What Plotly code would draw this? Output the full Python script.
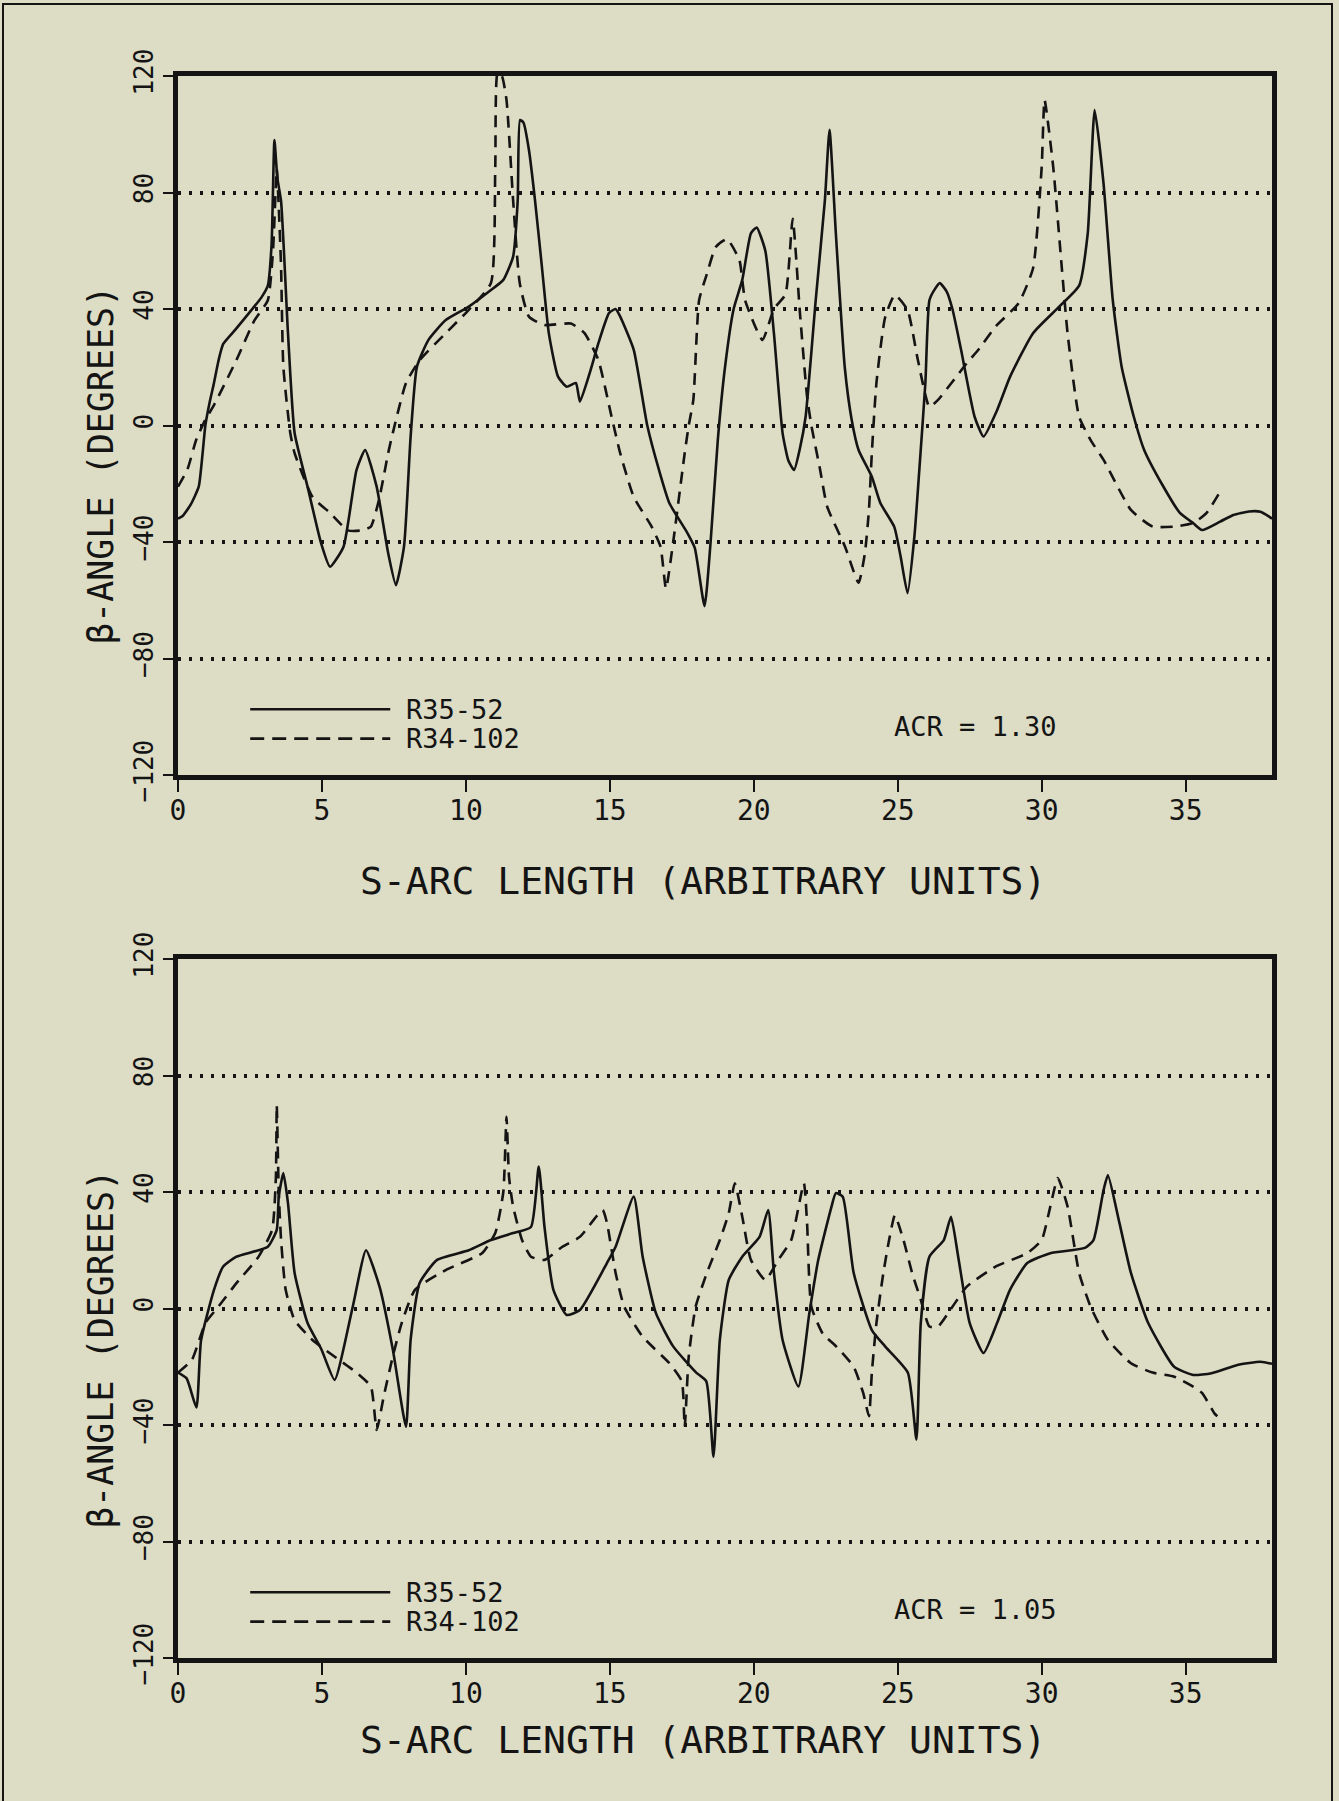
import plotly.graph_objects as go

# ---------------- data ----------------
# Top panel (ACR = 1.30)
top_r35_x = [0, 0.17, 0.45, 0.72, 0.85, 0.95, 1.1, 1.25, 1.4, 1.57, 2.0, 2.5, 2.9, 3.12, 3.25, 3.35, 3.45,
             3.58, 3.82, 4.05, 4.5, 4.97, 5.28, 5.75, 6.2, 6.5, 6.9, 7.3, 7.57, 7.85, 8.08, 8.3, 8.7, 9.3,
             10.1, 10.87, 11.3, 11.64, 11.8, 11.88, 12.0, 12.19, 12.4, 12.64, 12.88, 13.2, 13.5, 13.82,
             13.96, 14.3, 14.6, 14.97, 15.2, 15.36, 15.83, 16.3, 16.7, 17.07, 17.7, 17.95, 18.29, 18.5,
             18.75, 19.0, 19.3, 19.6, 19.9, 20.1, 20.4, 20.7, 21.0, 21.2, 21.4, 21.6, 21.8, 22.15, 22.47,
             22.63, 22.85, 23.16, 23.4, 23.64, 24.1, 24.4, 24.88, 25.1, 25.34, 25.58, 25.73, 25.96, 26.1,
             26.3, 26.46, 26.7, 26.9, 27.2, 27.67, 27.98, 28.44, 28.9, 29.7, 30.6, 31.3, 31.6, 31.84,
             32.15, 32.47, 32.78, 33.2, 33.56, 34.17, 34.8, 35.26, 35.57, 36.2, 36.66, 37.2, 37.6, 37.9, 38]
top_r35_y = [-32, -31, -27, -21, -10, 0, 8, 14.6, 22, 28, 33, 39, 44, 48, 62, 98, 85,
             77, 31.7, -2.6, -21, -40.4, -48.5, -41.6, -15.3, -8.4, -21, -43.8, -54.8, -41.6, -3.8, 20.2,
             29.4, 36.2, 40.8, 46.5, 50, 58, 77.4, 104.9, 104, 94.6, 77.4, 54.5, 31.7, 16.8, 13.3, 14.6,
             8.2, 18, 28.2, 38.6, 40, 37.4, 26, 0, -15, -26.7, -37, -42, -62, -40,
             -5, 20, 40, 50, 66, 68, 60, 31.6, -2.6, -12, -15.3, -8, 3, 43, 77.4,
             101.5, 66, 20, 2, -8.4, -17.6, -26.7, -34.8, -45, -57.6, -38, -18, 14.6, 43,
             47, 48.9, 46, 40, 26, 3, -3.8, 5, 16.7, 31.7, 40.7, 48, 66, 108.3,
             83, 43, 20, 3, -8.4, -20, -30, -33.5, -35.9, -33, -30.7, -29.5, -29.6, -31.3, -32]

top_r34_x = [0, 0.33, 0.63, 0.95, 1.25, 2.03, 2.65, 3.12, 3.3, 3.43, 3.5, 3.58, 3.66, 3.9, 4.05, 4.67,
             5.28, 5.9, 6.4, 6.7, 6.98, 7.3, 7.46, 7.92, 8.4, 9.3, 10.1, 10.87, 11.02, 11.1, 11.25, 11.41,
             11.64, 11.87, 12.19, 12.73, 13.65, 14.12, 14.6, 15.06, 15.36, 15.83, 16.45, 16.76, 16.95,
             17.2, 17.6, 17.74, 17.9, 18.1, 18.37, 18.68, 19.07, 19.5, 19.7, 20.3, 20.7, 21.1, 21.35,
             21.6, 21.85, 22.0, 22.3, 22.55, 23.17, 23.64, 23.86, 24.0, 24.1, 24.26, 24.56, 24.9, 25.34,
             25.7, 26.1, 26.4, 27.4, 27.8, 28.4, 29.2, 29.7, 30.0, 30.1, 30.4, 30.7, 30.9, 31.3, 31.7,
             32.15, 33.1, 33.85, 34.6, 35.26, 35.73, 36.2]
top_r34_y = [-21, -15, -5, 2, 7, 22.5, 36, 43, 60, 88, 75, 54.5, 20, -2.6, -9.5, -24.5,
             -30, -36, -36, -34.7, -25.6, -9.5, -2.6, 14.6, 22.5, 31.7, 39.7, 48.9, 88.8, 121, 120, 111.8,
             77.4, 48.9, 37.4, 34.5, 35, 31.7, 22.5, 3, -9.5, -24.5, -34.7, -41.6, -56,
             -40, -9.5, 0, 8.8, 43, 52, 61.3, 64, 56.8, 43, 29.4, 40, 45, 71,
             39, 10, 0, -15, -27.9, -41.6, -54, -43.8, -29, -9.5, 14.6, 37, 44.8, 39.7,
             22.5, 6.4, 8.8, 21.4, 26, 34, 42, 54, 88.7, 111.8, 88.8, 54, 31.6, 3, -5,
             -11.8, -29, -34.7, -34.7, -33.5, -30, -22.7]

# Bottom panel (ACR = 1.05)
bot_r35_x = [0, 0.3, 0.64, 0.8, 1.25, 1.57, 2.03, 3.12, 3.43, 3.5, 3.66, 3.82, 4.05, 4.5, 4.98, 5.44,
             6.07, 6.53, 7.0, 7.46, 7.92, 8.08, 8.39, 9.0, 10.1, 10.87, 11.64, 12.26, 12.53, 12.73, 13.04,
             13.5, 13.96, 14.9, 15.2, 15.83, 16.14, 16.6, 17.2, 18.0, 18.35, 18.6, 18.82, 19.13, 19.6,
             20.2, 20.5, 20.7, 21.0, 21.55, 21.93, 22.24, 22.7, 22.85, 23.09, 23.47, 24.1, 24.56, 25.35,
             25.65, 25.8, 26.1, 26.6, 26.85, 27.1, 27.5, 27.98, 28.45, 28.9, 29.5, 30.3, 31.5, 31.8,
             32.15, 32.3, 32.7, 33.1, 33.7, 34.6, 35.26, 35.9, 36.8, 37.6, 38]
bot_r35_y = [-22, -24, -34, -11, 6.4, 14.4, 17.8, 21.2, 27, 38.4, 46.5, 36.2, 12.2, -5, -14, -24.5,
             0.6, 20, 7.5, -14, -40.6, -10.8, 8.7, 16.7, 20, 23.5, 25.9, 28, 48.7, 28, 6.4,
             -2.2, -0.5, 15.6, 21.2, 38.4, 17.8, -1.6, -13, -22, -25, -50.9, -10.8, 9.8, 17.8,
             24.6, 33.8, 12.2, -10.8, -26.8, -1.6, 16.7, 35, 39.6, 38.4, 12.2, -7.4, -13, -22,
             -45, -5, 17.8, 23.5, 31.5, 17.8, -5, -15.3, -5, 6.4, 15.6, 19, 20.8, 23.5,
             40.7, 45.8, 29.4, 12.2, -5, -20, -22.8, -22.2, -19.4, -18.3, -19]

bot_r34_x = [0, 0.48, 0.95, 1.4, 2.03, 2.8, 3.27, 3.4, 3.43, 3.5, 3.58, 3.74, 4.05, 4.67, 5.6, 6.2,
             6.7, 6.9, 7.15, 7.46, 7.77, 8.23, 9.3, 10.56, 11.02, 11.3, 11.41, 11.5, 11.64, 11.95, 12.26,
             12.73, 13.35, 13.96, 14.75, 14.9, 15.2, 15.5, 16.14, 17.07, 17.5, 17.6, 17.74, 17.98, 18.37,
             18.82, 19.13, 19.34, 19.6, 19.9, 20.4, 20.85, 21.3, 21.74, 21.85, 22.0, 22.4, 22.86, 23.47,
             23.8, 24.0, 24.1, 24.26, 24.5, 24.7, 24.9, 25.2, 25.5, 25.8, 26.1, 26.4, 26.9, 27.4, 28.4,
             29.5, 30.0, 30.3, 30.56, 30.9, 31.3, 31.7, 32.3, 33.1, 33.85, 34.6, 35.26, 35.57, 36.0, 36.1]
bot_r34_y = [-22, -17.7, -5, 0.6, 8.7, 17.8, 27, 45, 69.9, 40, 23.5, 6.4, -4, -10.8, -17.7, -22,
             -26.8, -41.7, -30, -16.5, -5, 6.4, 13.2, 19, 25.9, 40, 65.8, 45, 35, 23.5, 17.8,
             16.7, 21.2, 24.6, 33.8, 29.4, 12.2, 0.6, -9.7, -18.8, -25, -40.6, -16.5, 0.6, 12.2,
             23.5, 32.7, 43, 31.5, 16.7, 9.8, 16.7, 23.5, 43, 29.4, 0.6, -8.7, -13, -20,
             -29, -37, -22, -5, 12.2, 23.5, 32, 23.5, 12.2, 3, -6.2, -6.2, 0.6, 7.5, 14.4,
             19, 23.5, 35, 44.8, 35, 12.2, 0.6, -10.8, -18.8, -22, -23.4, -26.8, -29, -36, -37]

x_ticks = [0, 5, 10, 15, 20, 25, 30, 35]
y_ticks = [-120, -80, -40, 0, 40, 80, 120]
series_names = ["R35-52", "R34-102"]
panel_labels = ["ACR = 1.30", "ACR = 1.05"]
x_title = "S-ARC LENGTH (ARBITRARY UNITS)"
y_title = "β-ANGLE (DEGREES)"

# ---------------- styling ----------------
BG = "#dddcc5"
INK = "#141414"
FONT = "DejaVu Sans Mono"
SOLID_W = 2.6
DASH = "12px,8px"

fig = go.Figure()

panels = [
    ("x", "y", top_r35_x, top_r35_y, top_r34_x, top_r34_y),
    ("x2", "y2", bot_r35_x, bot_r35_y, bot_r34_x, bot_r34_y),
]
for xa, ya, sx, sy, dx, dy in panels:
    fig.add_trace(go.Scatter(x=sx, y=sy, mode="lines", xaxis=xa, yaxis=ya, name=series_names[0],
                             line=dict(color=INK, width=SOLID_W, shape="spline", smoothing=0.5),
                             showlegend=False))
    fig.add_trace(go.Scatter(x=dx, y=dy, mode="lines", xaxis=xa, yaxis=ya, name=series_names[1],
                             line=dict(color=INK, width=SOLID_W, dash=DASH, shape="spline", smoothing=0.5),
                             showlegend=False))

W, H = 1339, 1801
ML, MR, MT, MB = 178, 67, 76, 143
plot_h = H - MT - MB
top_dom = [(1658 - 775) / plot_h, 1.0]
bot_dom = [0.0, (1658 - 959) / plot_h]

def xaxis_cfg(anchor):
    return dict(range=[0, 38], tickvals=x_ticks, ticks="outside", ticklen=12, tickwidth=2,
                tickcolor=INK, showline=True, linewidth=5, linecolor=INK, mirror=True,
                showgrid=False, zeroline=False, anchor=anchor, ticklabelstandoff=-6,
                tickfont=dict(family=FONT, size=28, color=INK))

def yaxis_cfg(anchor, dom):
    return dict(range=[-120, 120], tickvals=y_ticks, ticks="outside", ticklen=10, tickwidth=2,
                tickcolor=INK, tickangle=-90, showline=True, linewidth=5, linecolor=INK, mirror=True,
                showgrid=True, gridcolor=INK, gridwidth=3.5, griddash="3px,8px",
                zeroline=False, anchor=anchor, domain=dom,
                tickfont=dict(family=FONT, size=26, color=INK))

fig.update_layout(
    width=W, height=H,
    margin=dict(l=ML, r=MR, t=MT, b=MB),
    paper_bgcolor=BG, plot_bgcolor=BG,
    font=dict(family=FONT, color=INK),
    showlegend=False,
    xaxis=xaxis_cfg("y"),
    yaxis=yaxis_cfg("x", top_dom),
    xaxis2=xaxis_cfg("y2"),
    yaxis2=yaxis_cfg("x2", bot_dom),
)

def py(Y):
    return (1658 - Y) / plot_h

annotations = []
shapes = []
for (xref, yref, ytitle_center, xtitle_center, panel_label) in [
    ("x domain", "y domain", 465, 881, panel_labels[0]),
    ("x2 domain", "y2 domain", 1349, 1740, panel_labels[1]),
]:
    annotations.append(dict(text=y_title, xref="paper", yref="paper", x=(101 - ML) / 1094,
                            y=py(ytitle_center), textangle=-90, showarrow=False,
                            font=dict(family=FONT, size=35, color=INK), xanchor="center", yanchor="middle"))
    annotations.append(dict(text=x_title, xref="paper", yref="paper", x=(703 - ML) / 1094,
                            y=py(xtitle_center), showarrow=False,
                            font=dict(family=FONT, size=38, color=INK), xanchor="center", yanchor="middle"))
    # legend
    shapes.append(dict(type="line", xref=xref, yref=yref, x0=0.066, x1=0.194, y0=0.094, y1=0.094,
                       line=dict(color=INK, width=SOLID_W)))
    shapes.append(dict(type="line", xref=xref, yref=yref, x0=0.066, x1=0.194, y0=0.052, y1=0.052,
                       line=dict(color=INK, width=SOLID_W, dash="14px,8px")))
    annotations.append(dict(text=series_names[0], xref=xref, yref=yref, x=0.207, y=0.094,
                            xanchor="left", yanchor="middle", showarrow=False,
                            font=dict(family=FONT, size=27, color=INK)))
    annotations.append(dict(text=series_names[1], xref=xref, yref=yref, x=0.207, y=0.052,
                            xanchor="left", yanchor="middle", showarrow=False,
                            font=dict(family=FONT, size=27, color=INK)))
    annotations.append(dict(text=panel_label, xref=xref, yref=yref, x=0.729, y=0.07,
                            xanchor="center", yanchor="middle", showarrow=False,
                            font=dict(family=FONT, size=27, color=INK)))

# outer page frame
shapes.append(dict(type="rect", xref="paper", yref="paper",
                   x0=(3 - ML) / 1094, x1=(1332 - ML) / 1094,
                   y0=py(1830), y1=py(4), line=dict(color=INK, width=2), layer="below"))

fig.update_layout(annotations=annotations, shapes=shapes)
fig.write_html("out.html", config={"displayModeBar": False},
               post_script="document.body.style.margin='0';document.body.style.background='%s';" % BG)
